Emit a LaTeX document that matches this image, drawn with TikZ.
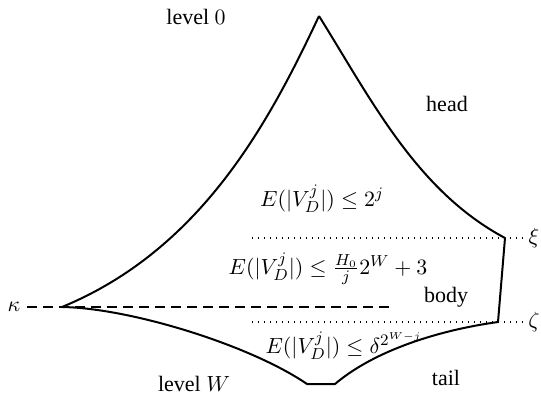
\documentclass[tikz,border=0pt]{standalone}
\usepackage[no-math]{fontspec}
\setmainfont{Liberation Serif}
\begin{document}
\begin{tikzpicture}[x=0.5pt,y=-0.5pt,
  outline/.style={line width=1pt,line join=round},
  lbl/.style={font=\fontsize{11}{13}\selectfont,inner sep=0pt},
  dashline/.style={line width=1pt,dash pattern=on 5pt off 3pt},
  dotline/.style={line width=1pt,dash pattern=on 0.6pt off 2.4pt}]
\useasboundingbox (0,0) rectangle (541,397);
\coordinate (apex) at (319,16);
\coordinate (kap) at (62,307);
\coordinate (xi) at (505,238);
\coordinate (zeta) at (498,322);
\coordinate (bl) at (307,384);
\coordinate (br) at (335,384);
% outline
\draw[outline] (apex) .. controls (372,101) and (417,191) .. (xi)
  -- (zeta) .. controls (440,330) and (375,350) .. (br)
  -- (bl) .. controls (250,345) and (130,308) .. (kap)
  .. controls (200,250) and (268,125) .. (apex);
% labels
\node[lbl] (kl) at (14,307) {$\kappa$};
\node[lbl] (xil) at (534,238) {$\xi$};
\node[lbl] (zl) at (534,322) {$\zeta$};
\coordinate (de) at (390,307);
\coordinate (xs) at (252,238);
\coordinate (zs) at (252,322);
\draw[dashline] (kl.east) ++(6,0) -- (de);
\draw[dotline] (xs) -- ([xshift=-1pt]xil.west);
\draw[dotline] (zs) -- ([xshift=-1pt]zl.west);
\node[lbl] (l0) at (196,17) {level $0$};
\node[lbl] (head) at (447,104) {head};
\node[lbl] (e1) at (322,199) {$E(|V_D^j|)\leq 2^j$};
\node[lbl] (e2) at (328,269) {$E(|V_D^j|)\leq \frac{H_0}{j}2^W+3$};
\node[lbl] (body) at (446,297) {body};
\node[lbl] (e3) at (344,346) {$E(|V_D^j|)\leq \delta^{2^{W-j}}$};
\node[lbl] (lW) at (194,384) {level $W$};
\node[lbl] (tail) at (446,378) {tail};
\end{tikzpicture}
\end{document}
